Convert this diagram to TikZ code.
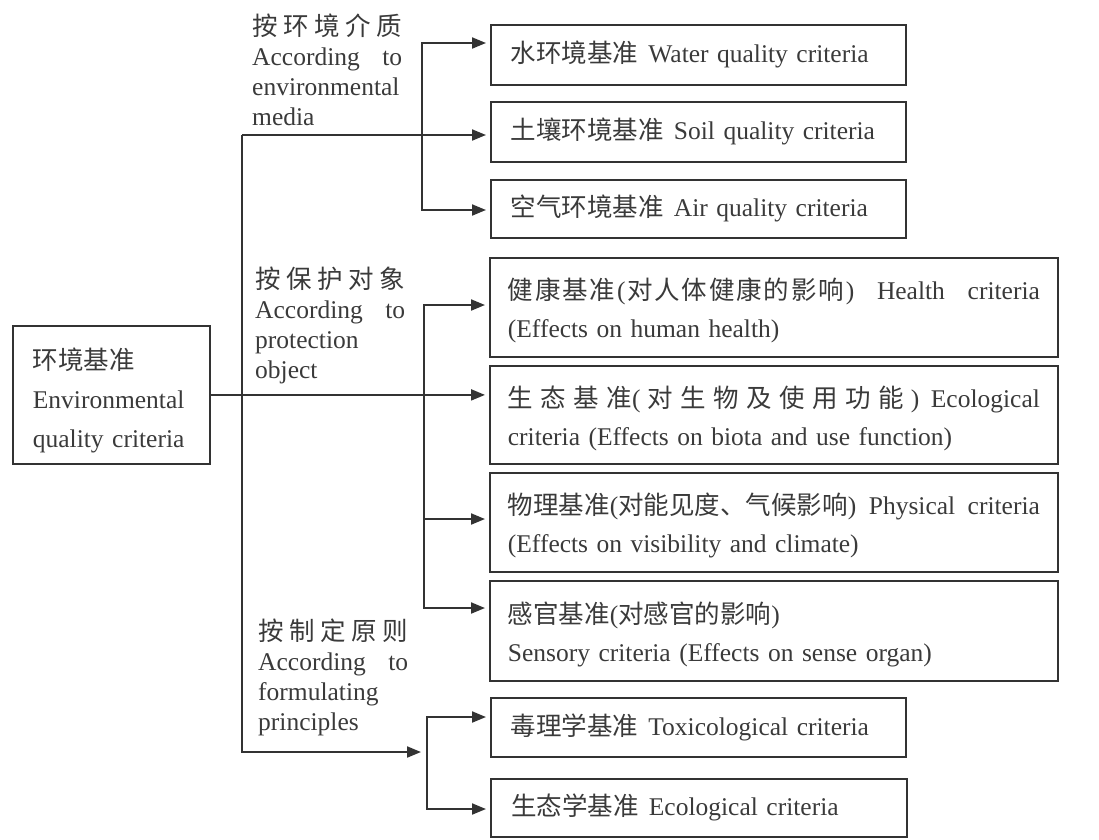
\documentclass[tikz,border=0pt]{standalone}
\usepackage{fontspec}
\setmainfont{Liberation Serif}
\newfontfamily\cjk{Noto Sans CJK SC}
\usetikzlibrary{arrows.meta}
\definecolor{ink}{HTML}{333333}
\definecolor{txt}{HTML}{3A3A3A}
\newcommand\jline[2]{\leavevmode\hbox to #1{#2}}
\newcommand\chgap{\kern1.8pt\relax}
\begin{document}
\begin{tikzpicture}[x=1pt,y=-1pt,
  >={Triangle[length=14pt,width=11pt]},
  box/.style={draw=ink,line width=1.8pt,inner ysep=0pt,inner xsep=0pt,anchor=north west,text=txt,align=left,font=\fontsize{25.5}{38}\selectfont},
  one/.style={box,minimum width=415pt,text width=375pt},
  two/.style={box,minimum width=568pt,text width=532pt},
  conn/.style={draw=ink,line width=2pt},
  arr/.style={conn,->,shorten >=4pt},
  darr/.style={conn,<->,shorten >=4pt,shorten <=4pt},
  lab/.style={anchor=base west,inner sep=0pt,text width=150pt,align=left,text=txt,font=\fontsize{25.5}{30}\selectfont}]
\useasboundingbox (0,0) rectangle (1099,839);

% root
\node[box,minimum width=197pt,minimum height=138pt,text width=157pt,font=\fontsize{25.5}{39}\selectfont] (env) at (12,325)
  {\rule{0pt}{32pt}{\cjk 环境基准}\\Environmental\\quality criteria};

% media group
\node[one,minimum height=60pt] (water) at (490,24) {{\cjk 水环境基准}\hspace{10pt}Water quality criteria};
\node[one,minimum height=60pt] (soil) at (490,101) {{\cjk 土壤环境基准}\hspace{10pt}Soil quality criteria};
\node[one,minimum height=58pt] (air) at (490,179) {{\cjk 空气环境基准}\hspace{10pt}Air quality criteria};

% protection group
\node[two,minimum height=99pt] (health) at (489,257)
  {\jline{532pt}{\rule{0pt}{28pt}{\cjk 健\chgap 康\chgap 基\chgap 准}\chgap(\chgap{\cjk 对\chgap 人\chgap 体\chgap 健\chgap 康\chgap 的\chgap 影\chgap 响}\chgap)\hspace{6pt}\hfill Health\hspace{6pt}\hfill criteria}\\(Effects on human health)};
\node[two,minimum height=98pt] (eco) at (489,365)
  {\jline{532pt}{\rule{0pt}{28pt}{\cjk 生\hfill 态\hfill 基\hfill 准}(\hfill{\cjk 对\hfill 生\hfill 物\hfill 及\hfill 使\hfill 用\hfill 功\hfill 能}\hfill)\hspace{4pt}\hfill Ecological}\\criteria (Effects on biota and use function)};
\node[two,minimum height=99pt] (phys) at (489,472)
  {\jline{532pt}{\rule{0pt}{28pt}{\cjk 物理基准}({\cjk 对能见度、气候影响})\hspace{5pt}\hfill Physical\hspace{5pt}\hfill criteria}\\(Effects on visibility and climate)};
\node[two,minimum height=100pt] (sens) at (489,580)
  {\rule{0pt}{28pt}{\cjk 感官基准}({\cjk 对感官的影响})\\Sensory criteria (Effects on sense organ)};

% principle group
\node[one,minimum height=59pt] (tox) at (490,697) {{\cjk 毒理学基准}\hspace{10pt}Toxicological criteria};
\node[one,minimum width=416pt,minimum height=58pt] (ecol) at (490,778) {{\cjk 生态学基准}\hspace{10pt}Ecological criteria};

% labels
\node[lab] (lmedia) at (252,35)
  {\jline{150pt}{\cjk 按\hfill 环\hfill 境\hfill 介\hfill 质}\\\jline{150pt}{According\hfill to}\\environmental\\media};
\node[lab] (lprot) at (255,288)
  {\jline{150pt}{\cjk 按\hfill 保\hfill 护\hfill 对\hfill 象}\\\jline{150pt}{According\hfill to}\\protection\\object};
\node[lab] (lform) at (258,640)
  {\jline{150pt}{\cjk 按\hfill 制\hfill 定\hfill 原\hfill 则}\\\jline{150pt}{According\hfill to}\\formulating\\principles};

% connectors
\coordinate (tt) at (242,135);
\coordinate (tb) at (242,752);
\coordinate (fe) at (421,752);
\draw[arr] (tt) -- (tt -| soil.west);
\draw[conn,->] (tt) -- (tb) -- (fe);
\draw[arr] (env.east) -- (env.east -| eco.west);

\coordinate (m1) at (422,43);
\coordinate (m2) at (422,210);
\draw[darr] (m1 -| water.west) -- (m1) -- (m2) -- (m2 -| air.west);

\coordinate (p1) at (424,305);
\coordinate (p3) at (424,519);
\coordinate (p4) at (424,608);
\draw[darr] (p1 -| health.west) -- (p1) -- (p4) -- (p4 -| sens.west);
\draw[arr] (p3) -- (p3 -| phys.west);

\coordinate (f1) at (427,717);
\coordinate (f2) at (427,809);
\draw[darr] (f1 -| tox.west) -- (f1) -- (f2) -- (f2 -| ecol.west);
\end{tikzpicture}
\end{document}
